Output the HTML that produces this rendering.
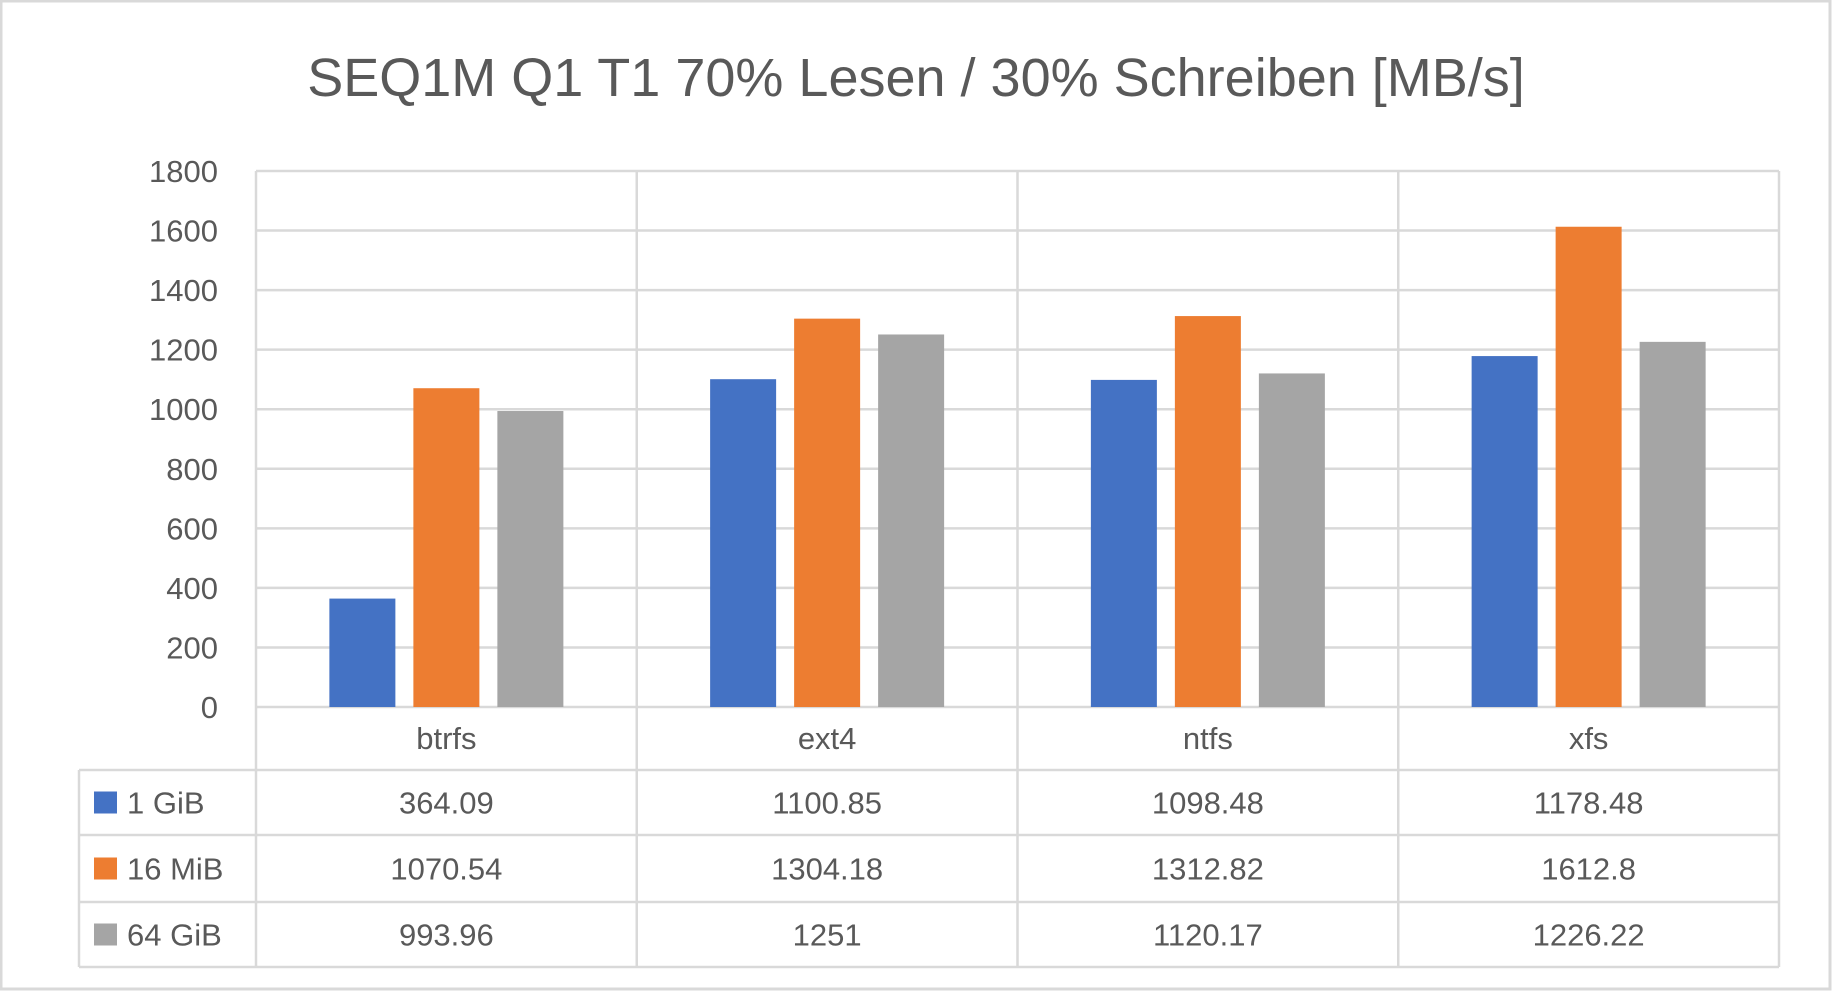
<!DOCTYPE html>
<html><head><meta charset="utf-8">
<style>
html,body{margin:0;padding:0;background:#fff;}
svg{display:block;font-family:"Liberation Sans",sans-serif;}
</style></head>
<body>
<svg id="chart" width="1832" height="992" viewBox="0 0 1832 992">
<rect x="1" y="1" width="1829" height="988" fill="#fff" stroke="#d9d9d9" stroke-width="3"/>
<text x="916" y="96" text-anchor="middle" font-size="54" fill="#595959">SEQ1M Q1 T1 70% Lesen / 30% Schreiben [MB/s]</text>
<g id="grid"></g><g id="bars"></g><g id="table"></g>
</svg>
<script>
const categories = ["btrfs","ext4","ntfs","xfs"];
const seriesNames = ["1 GiB","16 MiB","64 GiB"];
const seriesGiB1 = [364.09,1100.85,1098.48,1178.48];
const seriesMiB16 = [1070.54,1304.18,1312.82,1612.8];
const seriesGiB64 = [993.96,1251,1120.17,1226.22];
const seriesLabels = [["364.09","1100.85","1098.48","1178.48"],["1070.54","1304.18","1312.82","1612.8"],["993.96","1251","1120.17","1226.22"]];
const yTicks = [0,200,400,600,800,1000,1200,1400,1600,1800];

const series=[seriesGiB1,seriesMiB16,seriesGiB64];
const colors=["#4472c4","#ed7d31","#a5a5a5"];
const NS="http://www.w3.org/2000/svg";
const L=256,R=1779,T=171,B=707,yMax=1800;
const colW=(R-L)/categories.length;
const y=v=>B-(v/yMax)*(B-T);
const xc=i=>L+colW*(i+0.5);
function mk(p,tag,at){const e=document.createElementNS(NS,tag);for(const k in at)e.setAttribute(k,at[k]);p.appendChild(e);return e;}
const grid=document.getElementById('grid'),bars=document.getElementById('bars'),tbl=document.getElementById('table');
const gs={stroke:"#d9d9d9","stroke-width":"2.5"};
yTicks.forEach(t=>{
  const ln=mk(grid,'line',Object.assign({x1:L,x2:R,y1:y(t),y2:y(t)},gs));
  
  
  const tx=mk(grid,'text',{x:218,y:y(t)+11,"text-anchor":"end","font-size":"31",fill:"#595959"});
  tx.textContent=t;
  
  
});
const rowY=[707,770,835,902,967];
for(let i=0;i<=categories.length;i++){
  const x=L+colW*i;
  const ln=mk(grid,'line',Object.assign({x1:x,x2:x,y1:T,y2:967},gs));
  
  
}
[770,835,902,967].forEach(yy=>{
  const ln=mk(tbl,'line',Object.assign({x1:79,x2:R,y1:yy,y2:yy},gs));
  
  
});
const lv=mk(tbl,'line',Object.assign({x1:79,x2:79,y1:770,y2:967},gs));


categories.forEach((c,i)=>{
  const tx=mk(tbl,'text',{x:xc(i),y:749,"text-anchor":"middle","font-size":"31",fill:"#595959"});
  tx.textContent=c;
  
  
});
const bw=66,sp=84;
series.forEach((s,si)=>{
  s.forEach((v,i)=>{
    const cx=xc(i)+(si-1)*sp;
    const r=mk(bars,'rect',{x:cx-bw/2,y:y(v),width:bw,height:B-y(v),fill:colors[si]});
    
    
  });
  const ry=(rowY[si+1]+rowY[si+2])/2;
  const sq=mk(tbl,'rect',{x:94,y:ry-11,width:23,height:22,fill:colors[si]});
  
  
  const lt=mk(tbl,'text',{x:127,y:ry+11,"font-size":"31",fill:"#595959"});
  lt.textContent=seriesNames[si];
  
  
  seriesLabels[si].forEach((lab,i)=>{
    const t=mk(tbl,'text',{x:xc(i),y:ry+11,"text-anchor":"middle","font-size":"31",fill:"#595959"});
    t.textContent=lab;
    
    
  });
});
</script>
</body></html>
